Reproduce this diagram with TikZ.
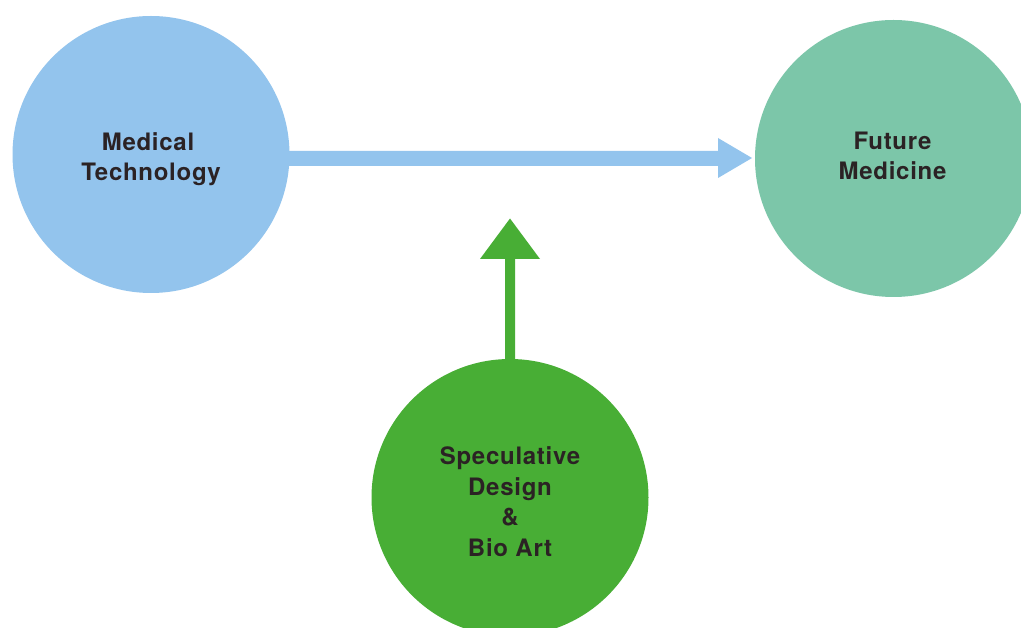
\documentclass[tikz,border=0pt]{standalone}
\usepackage{fontspec}
\setmainfont[LetterSpace=3.0]{TeX Gyre Heros}
\definecolor{bluec}{HTML}{93C4ED}
\definecolor{tealc}{HTML}{7CC6A9}
\definecolor{greenc}{HTML}{48AE35}
\definecolor{txt}{HTML}{2B2224}
\tikzset{
 disc/.style={circle,minimum size=277pt,inner sep=0pt},
 disctext/.style={align=center,inner sep=0pt,font=\fontsize{24pt}{30.6pt}\selectfont\bfseries,text=txt},
}
\begin{document}
\begin{tikzpicture}[x=1pt,y=-1pt]
\useasboundingbox (0,0) rectangle (1021,628);
\fill[white] (0,0) rectangle (1021,628);
\coordinate (a2) at (752,158);
\coordinate (g2) at (510,218.5);
\node[disc,fill=bluec,label={[disctext,yshift=-4.5pt]center:{Medical\hspace*{6pt}\\Technology}}] (mt) at (151,154.5) {};
\node[disc,fill=tealc,label={[disctext,xshift=-1pt,yshift=2.5pt]center:{Future\\Medicine}}] (fm) at (893.5,158.5) {};
\node[disc,fill=greenc,label={[disctext,yshift=-4pt]center:{Speculative\\Design\\\&\\Bio Art}}] (sd) at (510,497.5) {};
\fill[bluec] ([xshift=-8pt]mt.east |- 0,151) -- (718,151) -- (718,138) -- (a2) -- (718,178) -- (718,166) -- ([xshift=-8pt]mt.east |- 0,166) -- cycle;
\fill[greenc] (505,365) -- (505,259) -- (480,259) -- (g2) -- (540,259) -- (515,259) -- (515,365) -- cycle;
\end{tikzpicture}
\end{document}
